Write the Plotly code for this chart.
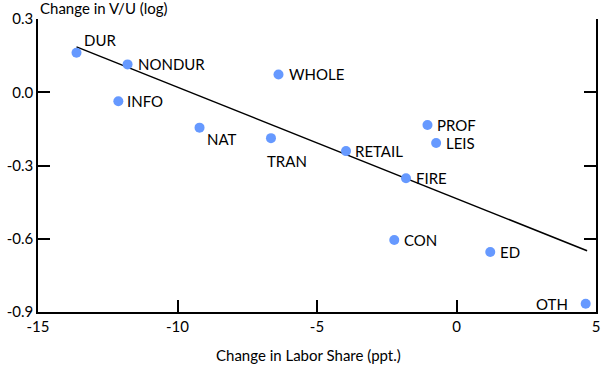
import plotly.graph_objects as go

sectors = ["DUR", "NONDUR", "INFO", "NAT", "TRAN", "WHOLE", "RETAIL", "PROF", "LEIS", "FIRE", "CON", "ED", "OTH"]
labor_share_change = [-13.62, -11.79, -12.12, -9.21, -6.65, -6.38, -3.96, -1.04, -0.73, -1.81, -2.23, 1.21, 4.63]
vu_change = [0.162, 0.114, -0.037, -0.145, -0.188, 0.073, -0.241, -0.134, -0.208, -0.352, -0.605, -0.654, -0.866]

fit_x = [-13.62, 4.68]
fit_y = [0.186, -0.649]

x_ticks = [-15, -10, -5, 0, 5]
x_tick_text = ["-15", "-10", "-5", "0", "5"]
y_ticks = [0.3, 0.0, -0.3, -0.6, -0.9]
y_tick_text = ["0.3", "0.0", "-0.3", "-0.6", "-0.9"]

# label placement: (xanchor, xshift px, yshift px)
label_pos = {
    "DUR": ("left", 5, 13),
    "NONDUR": ("left", 8, 0),
    "INFO": ("left", 7, 0),
    "NAT": ("left", 5, -11),
    "TRAN": ("left", -6, -23),
    "WHOLE": ("left", 8, 0),
    "RETAIL": ("left", 7, 0),
    "PROF": ("left", 8, 0),
    "LEIS": ("left", 8, 0),
    "FIRE": ("left", 8, 0),
    "CON": ("left", 8, 0),
    "ED": ("left", 8, 0),
    "OTH": ("right", -16, 0),
}

FONT = "Lato"
FS = 15
W, H = 605, 365
L, R, T, B = 38, 5, 19, 53
pw, ph = W - L - R, H - T - B

fig = go.Figure()
fig.add_trace(go.Scatter(x=fit_x, y=fit_y, mode="lines",
                         line=dict(color="black", width=1.5), hoverinfo="skip"))
fig.add_trace(go.Scatter(x=labor_share_change, y=vu_change, mode="markers",
                         marker=dict(color="#6699ff", size=10), text=sectors))

for s, xv, yv in zip(sectors, labor_share_change, vu_change):
    anc, xs, ys = label_pos[s]
    fig.add_annotation(x=xv, y=yv, xref="x", yref="y", text=s, showarrow=False,
                       xanchor=anc, yanchor="middle", xshift=xs, yshift=ys,
                       font=dict(family=FONT, size=FS, color="black"))

fig.add_annotation(x=0, y=1 + (19 - 8) / ph, xref="paper", yref="paper",
                   text="Change in V/U (log)", showarrow=False, xanchor="left", yanchor="middle",
                   font=dict(family=FONT, size=FS, color="black"))
fig.add_annotation(x=(310 - L) / pw, y=-(355 - (H - B)) / ph, xref="paper", yref="paper",
                   text="Change in Labor Share (ppt.)", showarrow=False,
                   xanchor="center", yanchor="middle",
                   font=dict(family=FONT, size=FS, color="black"))

fig.update_layout(
    width=W, height=H,
    margin=dict(l=L, r=R, t=T, b=B),
    plot_bgcolor="white", paper_bgcolor="white",
    showlegend=False,
    font=dict(family=FONT, size=FS, color="black"),
    xaxis=dict(range=[-15, 5], tickvals=x_ticks, ticktext=x_tick_text, ticks="inside",
               ticklen=12, tickwidth=1.5, tickcolor="black", showline=True, linecolor="black",
               linewidth=1.5, showgrid=False, zeroline=False, mirror=False),
    yaxis=dict(range=[-0.9, 0.3], tickvals=y_ticks, ticktext=y_tick_text, ticks="inside",
               ticklen=12, tickwidth=1.5, tickcolor="black", showline=True, linecolor="black",
               linewidth=1.5, showgrid=False, zeroline=False, mirror="ticks"),
)
fig.write_html("out.html", config={"displayModeBar": False},
               post_script="document.body.style.margin='0';")
